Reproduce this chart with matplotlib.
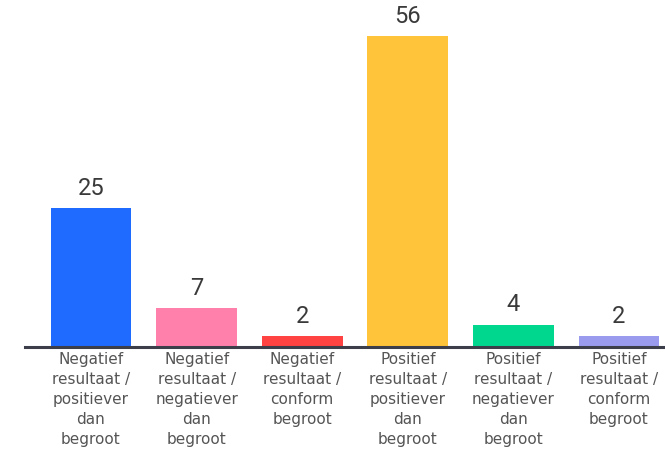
import matplotlib
matplotlib.use("Agg")
import matplotlib.pyplot as plt

categories = [
    "Negatief\nresultaat /\npositiever\ndan\nbegroot",
    "Negatief\nresultaat /\nnegatiever\ndan\nbegroot",
    "Negatief\nresultaat /\nconform\nbegroot",
    "Positief\nresultaat /\npositiever\ndan\nbegroot",
    "Positief\nresultaat /\nnegatiever\ndan\nbegroot",
    "Positief\nresultaat /\nconform\nbegroot",
]
values = [25, 7, 2, 56, 4, 2]
colors = ["#1f6bff", "#ff80ab", "#ff4242", "#ffc43a", "#00d78e", "#9a9bef"]

W, H = 665, 455
fig = plt.figure(figsize=(W / 100, H / 100), dpi=100)
ax = fig.add_axes([25 / W, (H - 347) / H, 640 / W, 347 / H])

x = list(range(len(values)))
bars = ax.bar(x, values, width=0.765, color=colors)
ax.set_xlim(-0.625, 5.436)
ax.set_ylim(0, 62.5)

for b, v in zip(bars, values):
    ax.annotate(str(v), (b.get_x() + b.get_width() / 2, v), xytext=(0, 6),
                textcoords="offset points", ha="center", va="bottom",
                fontsize=17, color="#3a3a3a", family="Roboto")

for s in ["top", "right", "left"]:
    ax.spines[s].set_visible(False)
ax.spines["bottom"].set_color("#3c3f4a")
ax.spines["bottom"].set_linewidth(2.2)
ax.set_yticks([])
ax.set_xticks(x)
ax.set_xticklabels(categories, fontsize=11, color="#555555",
                   family="DejaVu Sans", linespacing=1.42)
ax.tick_params(axis="x", length=0, pad=3.5)

fig.savefig("out.png", dpi=100)
